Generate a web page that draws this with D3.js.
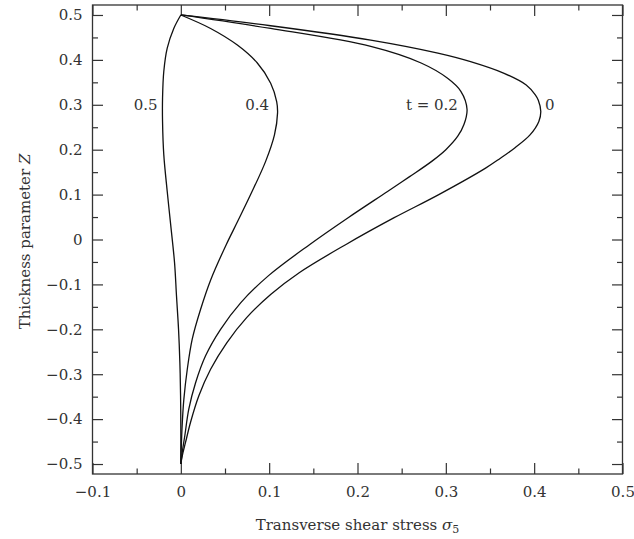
<!DOCTYPE html>
<html>
<head>
<meta charset="utf-8">
<script src="https://cdn.jsdelivr.net/npm/d3@7"></script>
<style>
  body { margin: 0; background: #fff; }
  svg { display: block; }
  text { font-family: "DejaVu Serif", "Liberation Serif", serif; fill: #333; }
</style>
</head>
<body>
<div id="chart"></div>
<script>
// sigma5 vs thickness parameter Z, one array per t value: [sigma, Z]
const curveT0 = [
  [0, 0.5], [0.1017, 0.476], [0.215, 0.444], [0.291, 0.415], [0.328, 0.396],
  [0.366, 0.370], [0.391, 0.344], [0.4013, 0.322], [0.4047, 0.310], [0.4075, 0.285],
  [0.4053, 0.263], [0.3953, 0.233], [0.378, 0.204], [0.361, 0.180], [0.345, 0.159],
  [0.292, 0.100], [0.241, 0.048],
  [0.187, -0.011], [0.134, -0.074], [0.102, -0.122], [0.0745, -0.174],
  [0.052, -0.230], [0.0337, -0.289], [0.0204, -0.348], [0.011, -0.407],
  [0.0053, -0.452], [0.0018, -0.48], [0, -0.5]
];
const curveT02 = [
  [0, 0.5], [0.1017, 0.470], [0.215, 0.430], [0.272, 0.393], [0.302, 0.359],
  [0.317, 0.330], [0.324, 0.290], [0.3205, 0.256], [0.3135, 0.230], [0.300, 0.200],
  [0.284, 0.174], [0.259, 0.140], [0.234, 0.107], [0.189, 0.048], [0.146, -0.011],
  [0.099, -0.081], [0.0677, -0.141], [0.045, -0.200], [0.028, -0.259], [0.0167, -0.319],
  [0.009, -0.378], [0.0045, -0.437], [0.0015, -0.475], [0, -0.5]
];
const curveT04 = [
  [0, 0.5], [0.0337, 0.470], [0.064, 0.433], [0.0866, 0.393], [0.1017, 0.348],
  [0.1085, 0.307], [0.1095, 0.282], [0.106, 0.233], [0.096, 0.174], [0.079, 0.100],
  [0.0645, 0.041], [0.0515, -0.011], [0.034, -0.089],
  [0.0223, -0.156], [0.0129, -0.222], [0.0073, -0.289], [0.0034, -0.356],
  [0.0013, -0.422], [0, -0.5]
];
const curveT05 = [
  [0, 0.5], [-0.008, 0.470], [-0.0154, 0.426], [-0.0193, 0.374], [-0.0207, 0.315],
  [-0.0207, 0.263], [-0.0193, 0.189], [-0.0154, 0.107], [-0.0115, 0.033],
  [-0.0071, -0.052], [-0.0049, -0.126], [-0.0026, -0.2],
  [-0.0011, -0.274], [-0.0003, -0.348], [0, -0.42], [0, -0.5]
];

// curve labels: text, sigma, Z, anchor
const curveLabels = [
  { text: "0.5", x: -0.0264, z: 0.288, anchor: "end" },
  { text: "0.4", x: 0.100, z: 0.288, anchor: "end" },
  { text: "t = 0.2", x: 0.3137, z: 0.288, anchor: "end" },
  { text: "0", x: 0.4124, z: 0.288, anchor: "start" }
];

const xMajorTicks = [-0.1, 0, 0.1, 0.2, 0.3, 0.4, 0.5];
const xMinorTicks = [-0.05, 0.05, 0.15, 0.25, 0.35, 0.45];
const yMajorTicks = [-0.5, -0.4, -0.3, -0.2, -0.1, 0, 0.1, 0.2, 0.3, 0.4, 0.5];
const yMinorTicks = [-0.45, -0.35, -0.25, -0.15, -0.05, 0.05, 0.15, 0.25, 0.35, 0.45];

const width = 634, height = 539;
const margin = { top: 5, right: 11.5, bottom: 65, left: 92.5 };
const innerW = width - margin.left - margin.right;
const innerH = height - margin.top - margin.bottom;

const svg = d3.select("#chart")
  .append("svg")
  .attr("width", width)
  .attr("height", height);

const g = svg.append("g")
  .attr("transform", `translate(${margin.left},${margin.top})`);

const x = d3.scaleLinear().domain([-0.1, 0.5]).range([0, innerW]);
const pad = 10 / 450;
const y = d3.scaleLinear().domain([-0.5 - pad, 0.5 + pad]).range([innerH, 0]);

const fmt = d => Math.abs(d) < 1e-9 ? "0" : d3.format(".1f")(d);

function styleAxis(sel) {
  sel.select(".domain").remove();
  sel.selectAll(".tick line").attr("stroke", "#333").attr("stroke-width", 1.2);
  sel.selectAll(".tick text")
    .attr("font-family", "DejaVu Serif, serif")
    .attr("font-size", 15)
    .attr("fill", "#333");
}

// bottom axis
g.append("g").attr("transform", `translate(0,${innerH})`)
  .call(d3.axisBottom(x).tickValues(xMajorTicks).tickSize(-11).tickPadding(12.5).tickFormat(fmt))
  .call(styleAxis);
g.append("g").attr("transform", `translate(0,${innerH})`)
  .call(d3.axisBottom(x).tickValues(xMinorTicks).tickSize(-5.5).tickFormat(""))
  .call(styleAxis);
// top axis
g.append("g")
  .call(d3.axisTop(x).tickValues(xMajorTicks).tickSize(-11).tickFormat(""))
  .call(styleAxis);
g.append("g")
  .call(d3.axisTop(x).tickValues(xMinorTicks).tickSize(-5.5).tickFormat(""))
  .call(styleAxis);
// left axis
g.append("g")
  .call(d3.axisLeft(y).tickValues(yMajorTicks).tickSize(-10.5).tickPadding(10).tickFormat(fmt))
  .call(styleAxis);
g.append("g")
  .call(d3.axisLeft(y).tickValues(yMinorTicks).tickSize(-5.5).tickFormat(""))
  .call(styleAxis);
// right axis
g.append("g").attr("transform", `translate(${innerW},0)`)
  .call(d3.axisRight(y).tickValues(yMajorTicks).tickSize(-10.5).tickFormat(""))
  .call(styleAxis);
g.append("g").attr("transform", `translate(${innerW},0)`)
  .call(d3.axisRight(y).tickValues(yMinorTicks).tickSize(-5.5).tickFormat(""))
  .call(styleAxis);

// frame
g.append("rect")
  .attr("width", innerW)
  .attr("height", innerH)
  .attr("fill", "none")
  .attr("stroke", "#333")
  .attr("stroke-width", 1.3);

// curves
const line = d3.line()
  .x(d => x(d[0]))
  .y(d => y(d[1]))
  .curve(d3.curveCatmullRom.alpha(0.5));

g.selectAll(".curve")
  .data([curveT0, curveT02, curveT04, curveT05])
  .enter()
  .append("path")
  .attr("class", "curve")
  .attr("fill", "none")
  .attr("stroke", "#111")
  .attr("stroke-width", 1.3)
  .attr("d", line);

// curve labels
g.selectAll(".curve-label")
  .data(curveLabels)
  .enter()
  .append("text")
  .attr("class", "curve-label")
  .attr("x", d => x(d.x))
  .attr("y", d => y(d.z))
  .attr("text-anchor", d => d.anchor)
  .attr("font-size", 15)
  .text(d => d.text);

// x axis title
const xTitle = svg.append("text")
  .attr("x", margin.left + innerW / 2)
  .attr("y", 530)
  .attr("text-anchor", "middle")
  .attr("font-size", 15);
xTitle.append("tspan").text("Transverse shear stress ");
xTitle.append("tspan").attr("font-style", "italic").text("σ");
xTitle.append("tspan").attr("font-size", 11).attr("dy", 3).text("5");

// y axis title
const yTitle = svg.append("text")
  .attr("transform", `translate(30,${margin.top + innerH / 2 + 2}) rotate(-90)`)
  .attr("text-anchor", "middle")
  .attr("font-size", 15);
yTitle.append("tspan").text("Thickness parameter ");
yTitle.append("tspan").attr("font-style", "italic").text("Z");
</script>
</body>
</html>
